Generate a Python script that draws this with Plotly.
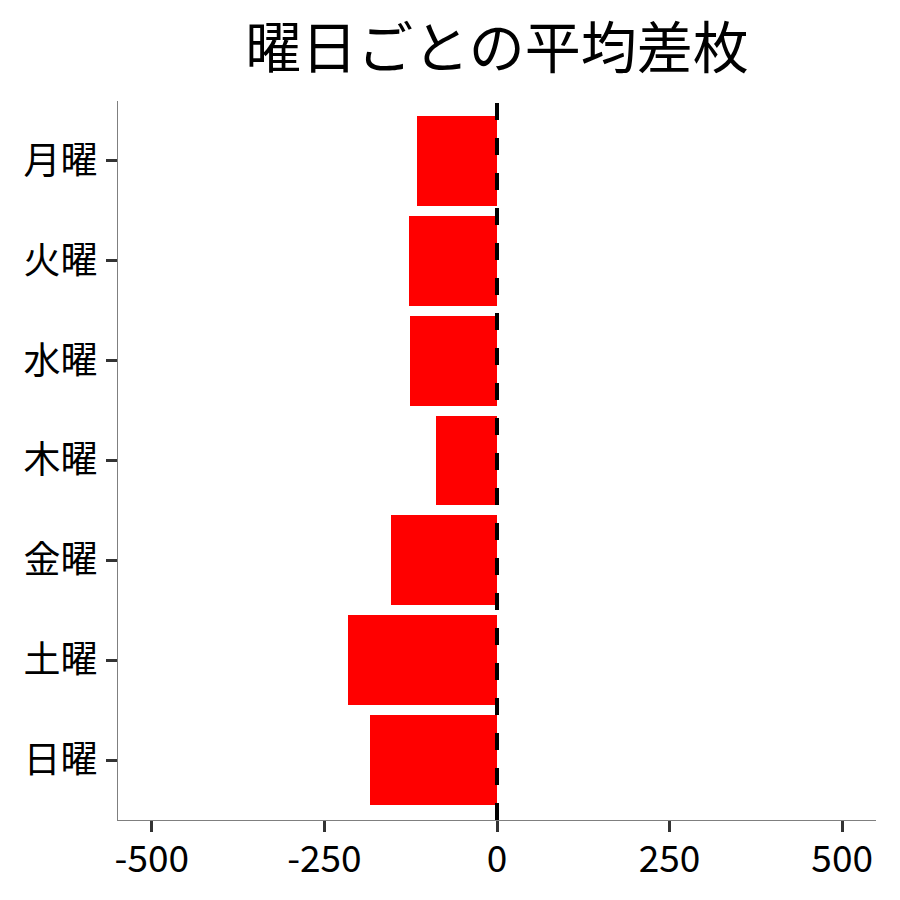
import plotly.graph_objects as go

FONT = "Noto Sans CJK JP"

days = ["月曜", "火曜", "水曜", "木曜", "金曜", "土曜", "日曜"]
avg_diff = [-116, -127, -126, -88, -154, -216, -184]
x_ticks = [-500, -250, 0, 250, 500]

fig = go.Figure()
fig.add_trace(go.Bar(
    x=avg_diff, y=days, orientation="h",
    marker=dict(color="#FF0000", line=dict(width=0)),
    width=0.9, showlegend=False,
))

# zero reference line, drawn bottom-up so the dash phase starts at the axis
fig.add_shape(type="line", xref="x", yref="paper",
              x0=0, x1=0, y0=0, y1=1,
              line=dict(color="black", width=4, dash="17px,18px"),
              layer="above")

# page body has an 8px margin: figure is 892 so it fits the 900 window
W = H = 892
fig.update_layout(
    width=W, height=H,
    plot_bgcolor="white", paper_bgcolor="white",
    margin=dict(l=110, r=24, t=93, b=80),
    font=dict(family=FONT, color="black"),
    title=dict(text="曜日ごとの平均差枚", x=0.5, xref="paper",
               y=1 - 40 / H, yref="container", yanchor="middle",
               font=dict(family=FONT, size=56, color="black")),
    bargap=0,
)
fig.update_xaxes(
    range=[-549, 549], tickvals=x_ticks, ticktext=[str(v) for v in x_ticks],
    showgrid=False, zeroline=False,
    showline=True, linecolor="#7f7f7f", linewidth=1.3,
    ticks="outside", ticklen=11, tickwidth=3, tickcolor="#333333",
    ticklabelstandoff=-5,
    tickfont=dict(family=FONT, size=37, color="black"),
)
fig.update_yaxes(
    categoryorder="array", categoryarray=days, range=[6.6, -0.6],
    showgrid=False, zeroline=False,
    showline=True, linecolor="#7f7f7f", linewidth=1.3,
    ticks="outside", ticklen=11, tickwidth=3, tickcolor="#333333",
    ticklabelstandoff=1,
    tickfont=dict(family=FONT, size=37, color="black"),
)

fig.write_html("out.html")
